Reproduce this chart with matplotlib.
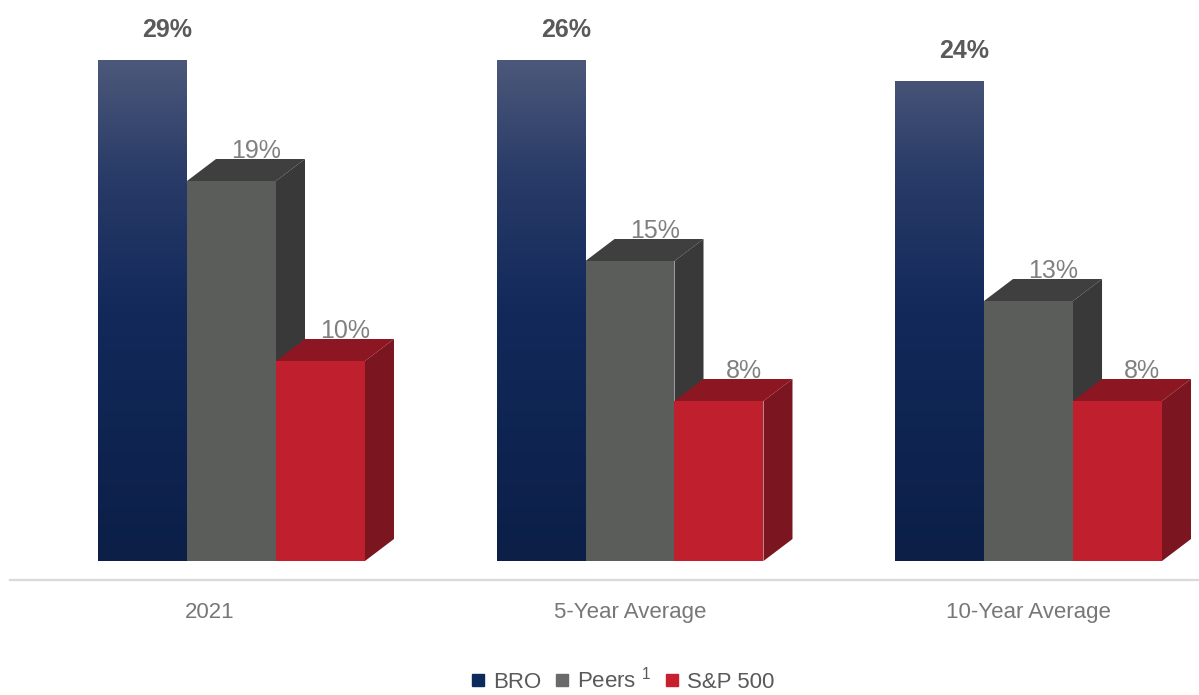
import numpy as np
import matplotlib
matplotlib.use("Agg")
import matplotlib.pyplot as plt
from matplotlib.patches import Rectangle, Polygon
from matplotlib.colors import LinearSegmentedColormap
from matplotlib.lines import Line2D
import matplotlib.transforms as mtransforms

plt.rcParams['font.family'] = ['Liberation Sans', 'DejaVu Sans']
plt.rcParams['mathtext.fontset'] = 'custom'
plt.rcParams['mathtext.rm'] = 'Liberation Sans'
plt.rcParams['mathtext.it'] = 'Liberation Sans'

# Data
categories = ["2021", "5-Year Average", "10-Year Average"]
series_names = ["BRO", r"Peers $^{\mathrm{1}}$", "S&P 500"]
bro = [29, 26, 24]
peers = [19, 15, 13]
sp500 = [10, 8, 8]

# Styling
bar_w = 0.2233
depth_x = 0.0728
depth_y = 1.1
y_top = 25.05
y_bottom = -0.95

peers_colors = dict(front="#5b5d5a", top="#3f3f3f", side="#393939")
sp_colors = dict(front="#c0202e", top="#8c1621", side="#7b1520")
bro_cmap = LinearSegmentedColormap.from_list(
    "bro", [(0.0, "#0b1f47"), (0.5, "#12295a"), (0.78, "#2a3c68"), (1.0, "#4c587a")])

W, H = 1199, 695
fig = plt.figure(figsize=(W / 100, H / 100), dpi=100)
ax = fig.add_axes([10 / W, 115 / H, 1189 / W, 520 / H])
ax.set_facecolor("none")

x = np.arange(len(categories))

def draw_3d_bar(xc, v, colors):
    x0, x1 = xc - bar_w / 2, xc + bar_w / 2
    ax.add_patch(Rectangle((x0, 0), bar_w, v, facecolor=colors["front"], edgecolor="none", zorder=3))
    ax.add_patch(Polygon([(x0, v), (x0 + depth_x, v + depth_y), (x1 + depth_x, v + depth_y), (x1, v)],
                         closed=True, facecolor=colors["top"], edgecolor="none", zorder=3))
    ax.add_patch(Polygon([(x1, 0), (x1 + depth_x, depth_y), (x1 + depth_x, v + depth_y), (x1, v)],
                         closed=True, facecolor=colors["side"], edgecolor="none", zorder=3))

def value_label(xc, v, bold):
    yv = min(v, y_top) + depth_y
    ax.annotate(f"{v}%", xy=(xc + depth_x * 0.85, yv), xytext=(0, 1), textcoords="offset points",
                ha="center", va="baseline", fontsize=18,
                fontweight="bold" if bold else "normal",
                color="#5a5a5a" if bold else "#808080",
                annotation_clip=False, zorder=5)

grad = np.linspace(0, 1, 256).reshape(-1, 1)
for i in range(len(categories)):
    # BRO: flat bar with vertical gradient
    xb = x[i] - bar_w
    clip = Rectangle((xb - bar_w / 2, 0), bar_w, bro[i], transform=ax.transData)
    im = ax.imshow(grad, cmap=bro_cmap, origin="lower", aspect="auto",
                   extent=[xb - bar_w / 2, xb + bar_w / 2, 0, y_top], zorder=2)
    im.set_clip_path(clip)
    value_label(xb, bro[i], True)

    draw_3d_bar(x[i], peers[i], peers_colors)
    value_label(x[i], peers[i], False)

    draw_3d_bar(x[i] + bar_w, sp500[i], sp_colors)
    value_label(x[i] + bar_w, sp500[i], False)

ax.set_xlim(-0.5558, 2.4278)
ax.set_ylim(y_bottom, y_top)
for s in ["top", "right", "left"]:
    ax.spines[s].set_visible(False)
ax.spines["bottom"].set_color("#d9d9d9")
ax.spines["bottom"].set_linewidth(1.6)
ax.set_yticks([])
ax.set_xticks(x)
ax.set_xticklabels(categories, fontsize=16, color="#777777")
ax.tick_params(axis="x", length=0, pad=16)
# nudge the first category label slightly left
shift = mtransforms.ScaledTranslation(-22 / 100, 0, fig.dpi_scale_trans)
ax.get_xticklabels()[0].set_transform(ax.get_xticklabels()[0].get_transform() + shift)

handles = [Line2D([], [], marker="s", linestyle="none", markersize=9, color=c)
           for c in ["#0d2a5c", "#6a6a6a", "#c8202f"]]
fig.legend(handles, series_names, loc="center", bbox_to_anchor=(0.519, 15 / H), ncol=3,
           frameon=False, fontsize=16, labelcolor="#595959", handlelength=0.75,
           handletextpad=0.3, columnspacing=0.55)

fig.savefig("out.png", dpi=100)
